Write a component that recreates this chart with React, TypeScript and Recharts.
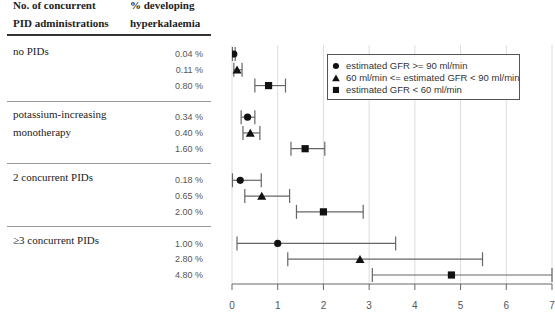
import React from "react";
import {
  ScatterChart,
  Scatter,
  XAxis,
  YAxis,
  CartesianGrid,
  ErrorBar,
} from "recharts";

// row slots: each group takes three rows, with one blank row between groups
const groups = [
  { lines: ["no PIDs"], slot: 0 },
  { lines: ["potassium-increasing", "monotherapy"], slot: 4 },
  { lines: ["2 concurrent PIDs"], slot: 8 },
  { lines: ["\u22653 concurrent PIDs"], slot: 12 },
];

// % developing hyperkalaemia per group, one value per GFR class
const gfrHigh = [0.04, 0.34, 0.18, 1.0];
const gfrMid = [0.11, 0.4, 0.65, 2.8];
const gfrLow = [0.8, 1.6, 2.0, 4.8];

// 95% CI bounds
const gfrHighLo = [0.01, 0.2, 0.01, 0.11];
const gfrHighHi = [0.07, 0.5, 0.64, 3.58];
const gfrMidLo = [0.04, 0.24, 0.28, 1.22];
const gfrMidHi = [0.22, 0.61, 1.26, 5.48];
const gfrLowLo = [0.5, 1.29, 1.41, 3.07];
const gfrLowHi = [1.17, 2.03, 2.87, 7.0];

const xTicks = [0, 1, 2, 3, 4, 5, 6, 7];

const legendLabels = [
  "estimated GFR >= 90 ml/min",
  "60 ml/min <= estimated GFR < 90 ml/min",
  "estimated GFR < 60 ml/min",
];

const build = (vals: number[], lo: number[], hi: number[], offset: number) =>
  vals.map((v, i) => ({
    x: v,
    slot: groups[i].slot + offset,
    err: [v - lo[i], hi[i] - v],
  }));

const highData = build(gfrHigh, gfrHighLo, gfrHighHi, 0);
const midData = build(gfrMid, gfrMidLo, gfrMidHi, 1);
const lowData = build(gfrLow, gfrLowLo, gfrLowHi, 2);

const percentBySlot: Record<number, string> = {};
[...highData, ...midData, ...lowData].forEach((d) => {
  percentBySlot[d.slot] = `${d.x.toFixed(2)} %`;
});
const yTicks = Object.keys(percentBySlot)
  .map(Number)
  .sort((a, b) => a - b);

const Circle = (p: any) => <circle cx={p.cx} cy={p.cy} r={3.6} fill="#111" />;
const Triangle = (p: any) => (
  <polygon
    points={`${p.cx - 4.5},${p.cy + 3.8} ${p.cx + 4.5},${p.cy + 3.8} ${p.cx},${p.cy - 4.2}`}
    fill="#111"
  />
);
const Square = (p: any) => (
  <rect x={p.cx - 3.6} y={p.cy - 3.6} width={7.2} height={7.2} fill="#111" />
);

const serif = "Liberation Serif, DejaVu Serif, serif";
const sans = "Liberation Sans, Arial, sans-serif";

// plot geometry shared with the left-hand table
const TOP = 45;
const BOTTOM_AXIS = 35;
const H = 319;
const SLOT_MIN = -0.57;
const SLOT_MAX = 14.57;
const slotY = (s: number) =>
  TOP + ((s - SLOT_MIN) / (SLOT_MAX - SLOT_MIN)) * (H - TOP - BOTTOM_AXIS);

const Txt = ({
  x,
  y,
  children,
  bold,
}: {
  x: number;
  y: number;
  children: React.ReactNode;
  bold?: boolean;
}) => (
  <div
    style={{
      position: "absolute",
      left: x,
      top: y - 7,
      lineHeight: "14px",
      fontSize: 11,
      fontFamily: serif,
      fontWeight: bold ? 700 : 400,
      color: "#222",
      whiteSpace: "nowrap",
    }}
  >
    {children}
  </div>
);

const Rule = ({ y, thick }: { y: number; thick?: boolean }) => (
  <div
    style={{
      position: "absolute",
      left: 7,
      width: 204,
      top: y,
      height: thick ? 2 : 1,
      background: thick ? "#333" : "#999",
    }}
  />
);

const markers = [Circle, Triangle, Square];

export default function App() {
  return (
    <div
      style={{
        position: "absolute",
        left: 0,
        top: 0,
        width: 555,
        height: H,
        background: "#fff",
        overflow: "hidden",
      }}
    >
      <Txt x={13} y={5} bold>
        No. of concurrent
      </Txt>
      <Txt x={130} y={5} bold>
        % developing
      </Txt>
      <Txt x={13} y={23} bold>
        PID administrations
      </Txt>
      <Txt x={130} y={23} bold>
        hyperkalaemia
      </Txt>
      <Rule y={34} thick />
      {groups.map((g, gi) =>
        g.lines.map((l, li) => (
          <Txt key={`${gi}-${li}`} x={13} y={slotY(g.slot) - 3 + li * 18}>
            {l}
          </Txt>
        ))
      )}
      <Rule y={101} />
      <Rule y={163} />
      <Rule y={226} />

      <ScatterChart
        width={555}
        height={H}
        margin={{ top: TOP, right: 3, bottom: 0, left: 0 }}
      >
        <CartesianGrid horizontal={false} stroke="#ddd" />
        <XAxis
          type="number"
          dataKey="x"
          domain={[0, 7]}
          ticks={xTicks}
          allowDataOverflow
          height={BOTTOM_AXIS}
          stroke="#666"
          tickSize={6}
          tickMargin={12}
          tick={{ fill: "#555", fontSize: 10, fontFamily: sans }}
        />
        <YAxis
          type="number"
          dataKey="slot"
          domain={[SLOT_MIN, SLOT_MAX]}
          reversed
          ticks={yTicks}
          interval={0}
          width={232}
          axisLine={false}
          tickLine={false}
          tickSize={0}
          tickMargin={29}
          tickFormatter={(v: number) => percentBySlot[v] ?? ""}
          tick={{ fill: "#555", fontSize: 9, fontFamily: sans }}
        />
        {[highData, midData, lowData].map((d, i) => (
          <Scatter
            key={i}
            data={d}
            shape={markers[i]}
            isAnimationActive={false}
          >
            <ErrorBar
              dataKey="err"
              direction="x"
              width={7}
              stroke="#666"
              strokeWidth={1.2}
              isAnimationActive={false}
            />
          </Scatter>
        ))}
      </ScatterChart>

      <div
        style={{
          position: "absolute",
          left: 327,
          top: 54,
          width: 191,
          height: 44,
          border: "1px solid #555",
          background: "#fff",
          fontFamily: sans,
          fontSize: 9.5,
          color: "#333",
        }}
      >
        {legendLabels.map((l, i) => {
          const M = markers[i];
          return (
            <div
              key={l}
              style={{
                position: "absolute",
                left: 2,
                top: 5 + i * 11.8,
                height: 12,
                lineHeight: "12px",
                display: "flex",
                alignItems: "center",
                whiteSpace: "nowrap",
              }}
            >
              <svg width={12} height={12} style={{ marginRight: 4 }}>
                <g transform="scale(0.85) translate(1 1)">
                  <M cx={6} cy={6} />
                </g>
              </svg>
              {l}
            </div>
          );
        })}
      </div>
    </div>
  );
}
